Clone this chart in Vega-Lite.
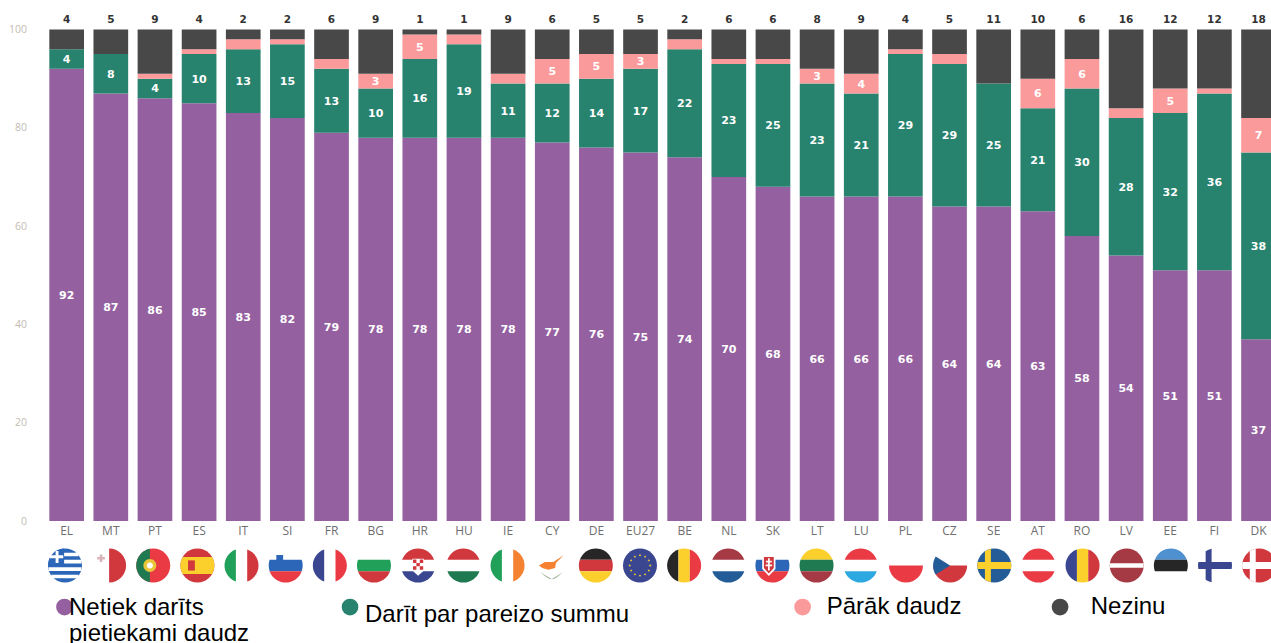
{"$schema":"https://vega.github.io/schema/vega-lite/v6.json","autosize":"none","width":1226.4,"height":491.5,"padding":{"left":44.6,"top":29.5,"right":0,"bottom":122},"background":"#ffffff","config":{"view":{"stroke":null}},
"datasets":{"segments":[
{"country":"EL","category":"Netiek darīts pietiekami daudz","rank":1,"value":92},{"country":"EL","category":"Darīt par pareizo summu","rank":2,"value":4},{"country":"EL","category":"Pārāk daudz","rank":3,"value":0},{"country":"EL","category":"Nezinu","rank":4,"value":4},
{"country":"MT","category":"Netiek darīts pietiekami daudz","rank":1,"value":87},{"country":"MT","category":"Darīt par pareizo summu","rank":2,"value":8},{"country":"MT","category":"Pārāk daudz","rank":3,"value":0},{"country":"MT","category":"Nezinu","rank":4,"value":5},
{"country":"PT","category":"Netiek darīts pietiekami daudz","rank":1,"value":86},{"country":"PT","category":"Darīt par pareizo summu","rank":2,"value":4},{"country":"PT","category":"Pārāk daudz","rank":3,"value":1},{"country":"PT","category":"Nezinu","rank":4,"value":9},
{"country":"ES","category":"Netiek darīts pietiekami daudz","rank":1,"value":85},{"country":"ES","category":"Darīt par pareizo summu","rank":2,"value":10},{"country":"ES","category":"Pārāk daudz","rank":3,"value":1},{"country":"ES","category":"Nezinu","rank":4,"value":4},
{"country":"IT","category":"Netiek darīts pietiekami daudz","rank":1,"value":83},{"country":"IT","category":"Darīt par pareizo summu","rank":2,"value":13},{"country":"IT","category":"Pārāk daudz","rank":3,"value":2},{"country":"IT","category":"Nezinu","rank":4,"value":2},
{"country":"SI","category":"Netiek darīts pietiekami daudz","rank":1,"value":82},{"country":"SI","category":"Darīt par pareizo summu","rank":2,"value":15},{"country":"SI","category":"Pārāk daudz","rank":3,"value":1},{"country":"SI","category":"Nezinu","rank":4,"value":2},
{"country":"FR","category":"Netiek darīts pietiekami daudz","rank":1,"value":79},{"country":"FR","category":"Darīt par pareizo summu","rank":2,"value":13},{"country":"FR","category":"Pārāk daudz","rank":3,"value":2},{"country":"FR","category":"Nezinu","rank":4,"value":6},
{"country":"BG","category":"Netiek darīts pietiekami daudz","rank":1,"value":78},{"country":"BG","category":"Darīt par pareizo summu","rank":2,"value":10},{"country":"BG","category":"Pārāk daudz","rank":3,"value":3},{"country":"BG","category":"Nezinu","rank":4,"value":9},
{"country":"HR","category":"Netiek darīts pietiekami daudz","rank":1,"value":78},{"country":"HR","category":"Darīt par pareizo summu","rank":2,"value":16},{"country":"HR","category":"Pārāk daudz","rank":3,"value":5},{"country":"HR","category":"Nezinu","rank":4,"value":1},
{"country":"HU","category":"Netiek darīts pietiekami daudz","rank":1,"value":78},{"country":"HU","category":"Darīt par pareizo summu","rank":2,"value":19},{"country":"HU","category":"Pārāk daudz","rank":3,"value":2},{"country":"HU","category":"Nezinu","rank":4,"value":1},
{"country":"IE","category":"Netiek darīts pietiekami daudz","rank":1,"value":78},{"country":"IE","category":"Darīt par pareizo summu","rank":2,"value":11},{"country":"IE","category":"Pārāk daudz","rank":3,"value":2},{"country":"IE","category":"Nezinu","rank":4,"value":9},
{"country":"CY","category":"Netiek darīts pietiekami daudz","rank":1,"value":77},{"country":"CY","category":"Darīt par pareizo summu","rank":2,"value":12},{"country":"CY","category":"Pārāk daudz","rank":3,"value":5},{"country":"CY","category":"Nezinu","rank":4,"value":6},
{"country":"DE","category":"Netiek darīts pietiekami daudz","rank":1,"value":76},{"country":"DE","category":"Darīt par pareizo summu","rank":2,"value":14},{"country":"DE","category":"Pārāk daudz","rank":3,"value":5},{"country":"DE","category":"Nezinu","rank":4,"value":5},
{"country":"EU27","category":"Netiek darīts pietiekami daudz","rank":1,"value":75},{"country":"EU27","category":"Darīt par pareizo summu","rank":2,"value":17},{"country":"EU27","category":"Pārāk daudz","rank":3,"value":3},{"country":"EU27","category":"Nezinu","rank":4,"value":5},
{"country":"BE","category":"Netiek darīts pietiekami daudz","rank":1,"value":74},{"country":"BE","category":"Darīt par pareizo summu","rank":2,"value":22},{"country":"BE","category":"Pārāk daudz","rank":3,"value":2},{"country":"BE","category":"Nezinu","rank":4,"value":2},
{"country":"NL","category":"Netiek darīts pietiekami daudz","rank":1,"value":70},{"country":"NL","category":"Darīt par pareizo summu","rank":2,"value":23},{"country":"NL","category":"Pārāk daudz","rank":3,"value":1},{"country":"NL","category":"Nezinu","rank":4,"value":6},
{"country":"SK","category":"Netiek darīts pietiekami daudz","rank":1,"value":68},{"country":"SK","category":"Darīt par pareizo summu","rank":2,"value":25},{"country":"SK","category":"Pārāk daudz","rank":3,"value":1},{"country":"SK","category":"Nezinu","rank":4,"value":6},
{"country":"LT","category":"Netiek darīts pietiekami daudz","rank":1,"value":66},{"country":"LT","category":"Darīt par pareizo summu","rank":2,"value":23},{"country":"LT","category":"Pārāk daudz","rank":3,"value":3},{"country":"LT","category":"Nezinu","rank":4,"value":8},
{"country":"LU","category":"Netiek darīts pietiekami daudz","rank":1,"value":66},{"country":"LU","category":"Darīt par pareizo summu","rank":2,"value":21},{"country":"LU","category":"Pārāk daudz","rank":3,"value":4},{"country":"LU","category":"Nezinu","rank":4,"value":9},
{"country":"PL","category":"Netiek darīts pietiekami daudz","rank":1,"value":66},{"country":"PL","category":"Darīt par pareizo summu","rank":2,"value":29},{"country":"PL","category":"Pārāk daudz","rank":3,"value":1},{"country":"PL","category":"Nezinu","rank":4,"value":4},
{"country":"CZ","category":"Netiek darīts pietiekami daudz","rank":1,"value":64},{"country":"CZ","category":"Darīt par pareizo summu","rank":2,"value":29},{"country":"CZ","category":"Pārāk daudz","rank":3,"value":2},{"country":"CZ","category":"Nezinu","rank":4,"value":5},
{"country":"SE","category":"Netiek darīts pietiekami daudz","rank":1,"value":64},{"country":"SE","category":"Darīt par pareizo summu","rank":2,"value":25},{"country":"SE","category":"Pārāk daudz","rank":3,"value":0},{"country":"SE","category":"Nezinu","rank":4,"value":11},
{"country":"AT","category":"Netiek darīts pietiekami daudz","rank":1,"value":63},{"country":"AT","category":"Darīt par pareizo summu","rank":2,"value":21},{"country":"AT","category":"Pārāk daudz","rank":3,"value":6},{"country":"AT","category":"Nezinu","rank":4,"value":10},
{"country":"RO","category":"Netiek darīts pietiekami daudz","rank":1,"value":58},{"country":"RO","category":"Darīt par pareizo summu","rank":2,"value":30},{"country":"RO","category":"Pārāk daudz","rank":3,"value":6},{"country":"RO","category":"Nezinu","rank":4,"value":6},
{"country":"LV","category":"Netiek darīts pietiekami daudz","rank":1,"value":54},{"country":"LV","category":"Darīt par pareizo summu","rank":2,"value":28},{"country":"LV","category":"Pārāk daudz","rank":3,"value":2},{"country":"LV","category":"Nezinu","rank":4,"value":16},
{"country":"EE","category":"Netiek darīts pietiekami daudz","rank":1,"value":51},{"country":"EE","category":"Darīt par pareizo summu","rank":2,"value":32},{"country":"EE","category":"Pārāk daudz","rank":3,"value":5},{"country":"EE","category":"Nezinu","rank":4,"value":12},
{"country":"FI","category":"Netiek darīts pietiekami daudz","rank":1,"value":51},{"country":"FI","category":"Darīt par pareizo summu","rank":2,"value":36},{"country":"FI","category":"Pārāk daudz","rank":3,"value":1},{"country":"FI","category":"Nezinu","rank":4,"value":12},
{"country":"DK","category":"Netiek darīts pietiekami daudz","rank":1,"value":37},{"country":"DK","category":"Darīt par pareizo summu","rank":2,"value":38},{"country":"DK","category":"Pārāk daudz","rank":3,"value":7},{"country":"DK","category":"Nezinu","rank":4,"value":18}
],
"flags":[
{"country":"EL","part":"disc","colour":"blue"},{"country":"EL","part":"gr_stripes","colour":"white"},{"country":"EL","part":"canton","colour":"blue"},{"country":"EL","part":"gr_cross","colour":"white"},
{"country":"MT","part":"righthalf","colour":"crimson"},{"country":"MT","part":"mt_cross","colour":"pale"},
{"country":"PT","part":"disc","colour":"red"},{"country":"PT","part":"pt_left","colour":"forest"},{"country":"PT","part":"emblem","colour":"lightgold"},{"country":"PT","part":"emblem_in","colour":"white"},
{"country":"ES","part":"disc","colour":"crimson"},{"country":"ES","part":"wide","colour":"gold"},{"country":"ES","part":"es_arms","colour":"crimson"},
{"country":"IT","part":"left","colour":"green"},{"country":"IT","part":"right","colour":"crimson"},
{"country":"SI","part":"mid","colour":"blue"},{"country":"SI","part":"bot","colour":"red"},{"country":"SI","part":"si_shield","colour":"blue"},
{"country":"FR","part":"left","colour":"navy"},{"country":"FR","part":"right","colour":"red"},
{"country":"BG","part":"mid","colour":"green"},{"country":"BG","part":"bot","colour":"crimson"},
{"country":"HR","part":"top","colour":"crimson"},{"country":"HR","part":"bot","colour":"navy"},{"country":"HR","part":"hr_shield","colour":"white"},{"country":"HR","part":"hr_arms","colour":"crimson"},
{"country":"HU","part":"top","colour":"crimson"},{"country":"HU","part":"bot","colour":"forest"},
{"country":"IE","part":"left","colour":"green"},{"country":"IE","part":"right","colour":"orange"},
{"country":"CY","part":"cy_island","colour":"orange"},{"country":"CY","part":"cy_branch","colour":"sage"},
{"country":"DE","part":"top","colour":"black"},{"country":"DE","part":"mid","colour":"crimson"},{"country":"DE","part":"bot","colour":"gold"},
{"country":"EU27","part":"disc","colour":"navy"},{"country":"EU27","part":"eu_stars","colour":"lightgold"},
{"country":"BE","part":"left","colour":"black"},{"country":"BE","part":"centre","colour":"gold"},{"country":"BE","part":"right","colour":"red"},
{"country":"NL","part":"top","colour":"maroon"},{"country":"NL","part":"bot","colour":"sweden"},
{"country":"SK","part":"mid","colour":"blue"},{"country":"SK","part":"bot","colour":"red"},{"country":"SK","part":"sk_shield","colour":"white"},{"country":"SK","part":"sk_arms","colour":"crimson"},{"country":"SK","part":"sk_cross","colour":"white"},
{"country":"LT","part":"top","colour":"gold"},{"country":"LT","part":"mid","colour":"forest"},{"country":"LT","part":"bot","colour":"maroon"},
{"country":"LU","part":"top","colour":"red"},{"country":"LU","part":"bot","colour":"sky"},
{"country":"PL","part":"bothalf","colour":"red"},
{"country":"CZ","part":"bothalf","colour":"crimson"},{"country":"CZ","part":"cz_tri","colour":"sweden"},
{"country":"SE","part":"disc","colour":"sweden"},{"country":"SE","part":"vcross","colour":"gold"},{"country":"SE","part":"hcross","colour":"gold"},
{"country":"AT","part":"top","colour":"red"},{"country":"AT","part":"bot","colour":"red"},
{"country":"RO","part":"left","colour":"navy"},{"country":"RO","part":"centre","colour":"gold"},{"country":"RO","part":"right","colour":"crimson"},
{"country":"LV","part":"disc","colour":"maroon"},{"country":"LV","part":"thin","colour":"white"},
{"country":"EE","part":"top","colour":"azure"},{"country":"EE","part":"mid","colour":"black"},
{"country":"FI","part":"vcross","colour":"navy"},{"country":"FI","part":"hcross","colour":"navy"},
{"country":"DK","part":"disc","colour":"crimson"},{"country":"DK","part":"vcross","colour":"white"},{"country":"DK","part":"hcross","colour":"white"}
],
"legend":[{"country":"EL","category":"Netiek darīts pietiekami daudz","label":"Netiek darīts\npietiekami daudz"},{"country":"FR","category":"Darīt par pareizo summu","label":"Darīt par pareizo summu"},{"country":"LT","category":"Pārāk daudz","label":"Pārāk daudz"},{"country":"RO","category":"Nezinu","label":"Nezinu"}]},
"data":{"name":"segments"},
"encoding":{"x":{"field":"country","type":"nominal","title":null,"sort":null,"scale":{"domain":["EL","MT","PT","ES","IT","SI","FR","BG","HR","HU","IE","CY","DE","EU27","BE","NL","SK","LT","LU","PL","CZ","SE","AT","RO","LV","EE","FI","DK"],"range":[0,1236],"paddingInner":0.214,"paddingOuter":0.107},"axis":{"ticks":false,"domain":false,"labelAngle":0,"labelFont":"Open Sans","labelFontSize":12,"labelColor":"#6e6e6e","labelPadding":4,"grid":false}}},
"layer":[
{"mark":{"type":"bar"},"encoding":{"y":{"field":"value","type":"quantitative","stack":"zero","title":null,"scale":{"domain":[0,100],"nice":false},"axis":{"values":[0,20,40,60,80,100],"ticks":false,"domain":false,"grid":false,"labelFont":"Open Sans","labelFontSize":10.5,"labelColor":"#c4bcb4","labelPadding":18}},"color":{"field":"category","type":"nominal","legend":null,"scale":{"domain":["Netiek darīts pietiekami daudz","Darīt par pareizo summu","Pārāk daudz","Nezinu"],"range":["#9460a0","#27826e","#fb9a9a","#484848"]}},"order":{"field":"rank","type":"quantitative"}}},
{"mark":{"type":"text","font":"DejaVu Sans","fontWeight":"bold","fontSize":11,"color":"#ffffff","dy":1},"encoding":{"y":{"field":"value","type":"quantitative","stack":"zero","bandPosition":0.5},"order":{"field":"rank","type":"quantitative"},"text":{"condition":{"test":"datum.category==='Nezinu'||datum.value<3","value":""},"field":"value","type":"quantitative"}}},
{"transform":[{"filter":"datum.category==='Nezinu'"}],"mark":{"type":"text","font":"DejaVu Sans","fontWeight":"bold","fontSize":10.5,"color":"#333333","dy":-10},"encoding":{"y":{"datum":100},"text":{"field":"value","type":"quantitative"}}},
{"data":{"name":"flags"},"transform":[{"filter":{"field":"country","oneOf":["EL","MT","PT","ES","IT","SI","FR","BG","HR"]}}],"mark":{"type":"point","filled":true,"size":1156,"opacity":1,"strokeWidth":0},"encoding":{"y":{"datum":-9.05},"xOffset":{"value":15.64},"fill":{"field":"colour","type":"nominal","legend":null,"scale":{"domain":["white","black","gold","lightgold","orange","red","crimson","maroon","green","forest","navy","blue","sky","azure","sweden","pale","sage"],"range":["#ffffff","#262626","#fbcf2c","#e9c53a","#f58230","#ea3a44","#d0383e","#a53a44","#20a058","#1f7a52","#3a4790","#2c66b8","#2ea8e0","#4f90d0","#245c98","#d9b3b8","#a3b394"]}},"shape":{"field":"part","type":"nominal","legend":null,"scale":{"domain":["disc","top","mid","bot","left","centre","right","tophalf","bothalf","righthalf","wide","thin","vcross","hcross","gr_stripes","canton","gr_cross","mt_cross","pt_left","emblem","emblem_in","es_arms","si_shield","hr_arms","hr_shield","cy_island","cy_branch","eu_stars","sk_shield","sk_arms","sk_cross","cz_tri"],"range":["circle",
"M-.943,-.333A1,1 0 0 1 .943,-.333Z",
"M-.943,-.333L.943,-.333A1,1 0 0 1 .943,.333L-.943,.333A1,1 0 0 1 -.943,-.333Z",
"M.943,.333A1,1 0 0 1 -.943,.333Z",
"M-.333,-.943A1,1 0 0 0 -.333,.943Z",
"M-.333,-.943L-.333,.943A1,1 0 0 0 .333,.943L.333,-.943A1,1 0 0 0 -.333,-.943Z",
"M.333,-.943A1,1 0 0 1 .333,.943Z",
"M-1,0A1,1 0 0 1 1,0Z",
"M1,0A1,1 0 0 1 -1,0Z",
"M0,-1A1,1 0 0 1 0,1Z",
"M-.866,-.5L.866,-.5A1,1 0 0 1 .866,.5L-.866,.5A1,1 0 0 1 -.866,-.5Z",
"M-.99,-.13L.99,-.13L.99,.13L-.99,.13Z",
"M-.55,-.835A1,1 0 0 1 -.2,-.98L-.2,.98A1,1 0 0 1 -.55,.835Z",
"M-.98,-.2L.98,-.2A1,1 0 0 1 .98,.2L-.98,.2A1,1 0 0 1 -.98,-.2Z",
"M-.8,-.75H.8V-.55H-.8ZM-.97,-.33H.97V-.11H-.97ZM-.97,.11H.97V.33H-.97ZM-.8,.55H.8V.75H-.8Z",
"M-.05,-1L-.05,-.05L-1,-.05A1,1 0 0 1 -.05,-1Z",
"M-.55,-.85H-.38V-.6H-.1V-.43H-.38V-.15H-.55V-.43H-.9V-.6H-.55Z",
"M-.55,-.65H-.4V-.5H-.25V-.35H-.4V-.2H-.55V-.35H-.7V-.5H-.55Z",
"M-.2,-.98A1,1 0 0 0 -.2,.98Z",
"M-.58,0A.38,.38 0 1 1 .18,0A.38,.38 0 1 1 -.58,0Z",
"M-.38,0A.18,.18 0 1 1 -.02,0A.18,.18 0 1 1 -.38,0Z",
"M-.55,-.3H-.15V.3H-.55Z",
"M-.55,-.62H-.15V-.15L-.35,.02L-.55,-.15Z",
"M-.3,-.35H-.1V-.15H-.3ZM.1,-.35H.3V-.15H.1ZM-.1,-.15H.1V.05H-.1ZM-.3,.05H-.1V.25H-.3ZM.1,.05H.3V.25H.1Z",
"M-.34,-.4H.34V.3L0,.6L-.34,.3Z",
"M-.75,0L-.4,-.2L.1,-.2L.7,-.6L.25,-.15L.2,.15L-.2,.25L-.55,.15Z",
"M-.65,.4Q-.2,.85 0,.8Q-.35,.6 -.65,.4ZM.65,.4Q.2,.85 0,.8Q.35,.6 .65,.4Z",
"M0,-.67L.07,-.6L0,-.53L-.07,-.6ZM.3,-.59L.37,-.52L.3,-.45L.23,-.52ZM.52,-.37L.59,-.3L.52,-.23L.45,-.3ZM.6,-.07L.67,0L.6,.07L.53,0ZM.52,.23L.59,.3L.52,.37L.45,.3ZM.3,.45L.37,.52L.3,.59L.23,.52ZM0,.53L.07,.6L0,.67L-.07,.6ZM-.3,.45L-.23,.52L-.3,.59L-.37,.52ZM-.52,.23L-.45,.3L-.52,.37L-.59,.3ZM-.6,-.07L-.53,0L-.6,.07L-.67,0ZM-.52,-.37L-.45,-.3L-.52,-.23L-.59,-.3ZM-.3,-.59L-.23,-.52L-.3,-.45L-.37,-.52Z",
"M-.6,-.6H.18V.2L-.21,.62L-.6,.2Z",
"M-.5,-.5H.08V.15L-.21,.47L-.5,.15Z",
"M-.26,-.42H-.16V-.28H-.04V-.18H-.16V-.06H-.02V.04H-.16V.3H-.26V.04H-.4V-.06H-.26V-.18H-.38V-.28H-.26Z",
"M-.85,-.53L0,0L-.85,.53A1,1 0 0 1 -.85,-.53Z"]}}}},
{"data":{"name":"flags"},"transform":[{"filter":{"field":"country","oneOf":["HU","IE","CY","DE","EU27","BE","NL","SK","LT","LU"]}}],"mark":{"type":"point","filled":true,"size":1156,"opacity":1,"strokeWidth":0},"encoding":{"y":{"datum":-9.05},"xOffset":{"value":16.8},"fill":{"field":"colour","type":"nominal","legend":null},"shape":{"field":"part","type":"nominal","legend":null}}},
{"data":{"name":"flags"},"transform":[{"filter":{"field":"country","oneOf":["PL","CZ","SE","AT","RO","LV","EE","FI","DK"]}}],"mark":{"type":"point","filled":true,"size":1156,"opacity":1,"strokeWidth":0},"encoding":{"y":{"datum":-9.05},"xOffset":{"value":17.96},"fill":{"field":"colour","type":"nominal","legend":null},"shape":{"field":"part","type":"nominal","legend":null}}},
{"data":{"name":"legend"},"transform":[{"filter":"datum.country==='EL'"}],"mark":{"type":"point","filled":true,"size":280,"opacity":1,"strokeWidth":0},"encoding":{"y":{"datum":-17.5},"xOffset":{"value":15.15},"color":{"field":"category","type":"nominal","legend":null}}},
{"data":{"name":"legend"},"transform":[{"filter":"datum.country==='FR'"}],"mark":{"type":"point","filled":true,"size":280,"opacity":1,"strokeWidth":0},"encoding":{"y":{"datum":-17.5},"xOffset":{"value":35.85},"color":{"field":"category","type":"nominal","legend":null}}},
{"data":{"name":"legend"},"transform":[{"filter":"datum.country==='LT'"}],"mark":{"type":"point","filled":true,"size":280,"opacity":1,"strokeWidth":0},"encoding":{"y":{"datum":-17.5},"xOffset":{"value":2.85},"color":{"field":"category","type":"nominal","legend":null}}},
{"data":{"name":"legend"},"transform":[{"filter":"datum.country==='RO'"}],"mark":{"type":"point","filled":true,"size":280,"opacity":1,"strokeWidth":0},"encoding":{"y":{"datum":-17.5},"xOffset":{"value":-4.55},"color":{"field":"category","type":"nominal","legend":null}}},
{"data":{"name":"legend"},"transform":[{"filter":"datum.country==='EL'"}],"mark":{"type":"text","font":"Liberation Sans","fontSize":24,"color":"#000000","align":"left","baseline":"alphabetic","dx":2.3,"lineBreak":"\n","lineHeight":26},"encoding":{"y":{"datum":-19.13},"text":{"field":"label"}}},
{"data":{"name":"legend"},"transform":[{"filter":"datum.country==='FR'"}],"mark":{"type":"text","font":"Liberation Sans","fontSize":24,"color":"#000000","align":"left","baseline":"alphabetic","dx":33.5},"encoding":{"y":{"datum":-20.5},"text":{"field":"label"}}},
{"data":{"name":"legend"},"transform":[{"filter":"datum.country==='LT'"}],"mark":{"type":"text","font":"Liberation Sans","fontSize":24,"color":"#000000","align":"left","baseline":"alphabetic","dx":9.6},"encoding":{"y":{"datum":-18.9},"text":{"field":"label"}}},
{"data":{"name":"legend"},"transform":[{"filter":"datum.country==='RO'"}],"mark":{"type":"text","font":"Liberation Sans","fontSize":24,"color":"#000000","align":"left","baseline":"alphabetic","dx":8.8},"encoding":{"y":{"datum":-18.9},"text":{"field":"label"}}}
]}
